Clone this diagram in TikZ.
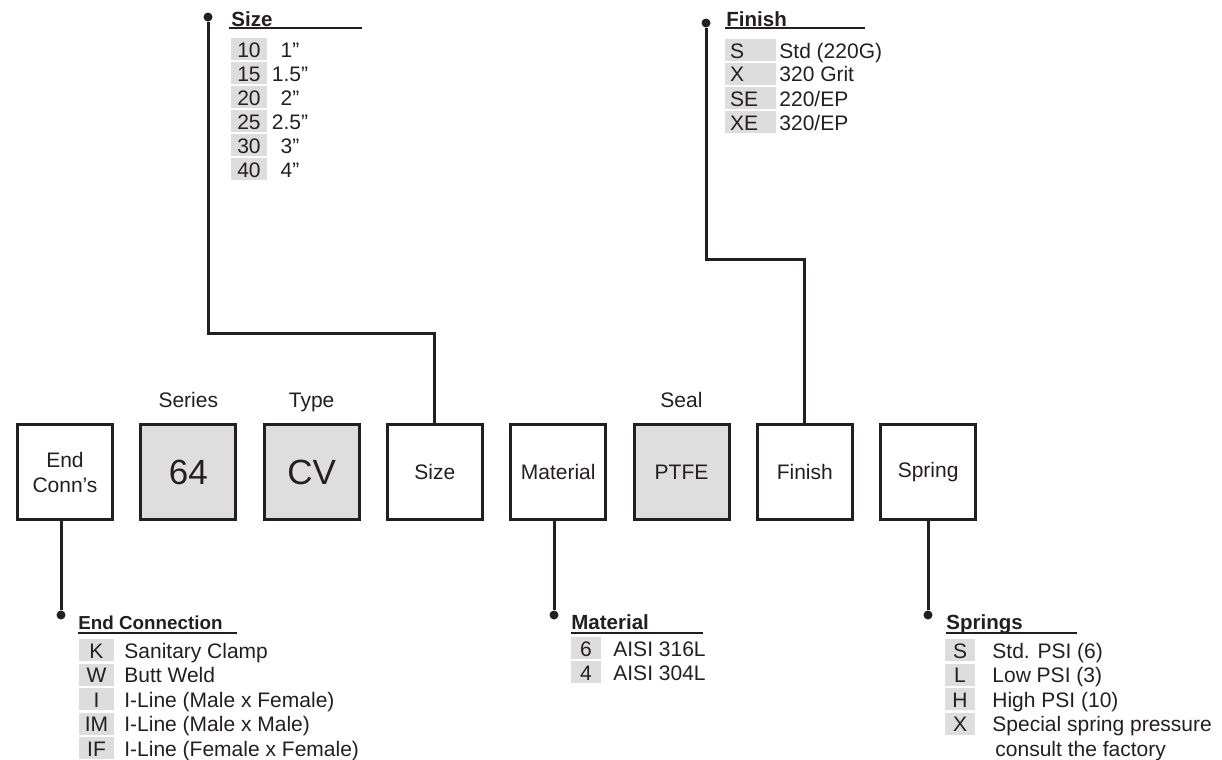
\documentclass[tikz,border=0pt]{standalone}
\usepackage{fontspec}
\setmainfont{Liberation Sans}
\usetikzlibrary{positioning}
\definecolor{inkc}{HTML}{231F20}
\definecolor{keyc}{HTML}{DEDEDE}
\definecolor{codec}{HTML}{DDDDDD}
\newcommand{\keyfont}{\fontsize{10.5}{12.5}\selectfont}
\tikzset{
  part/.style   = {draw=inkc, line width=1.5pt, minimum width=47.5pt, minimum height=47.5pt,
                   inner sep=0pt, align=center, text=inkc, font=\keyfont},
  fixed/.style  = {part, fill=keyc},
  big/.style    = {font=\fontsize{17.5}{20}\selectfont},
  toplbl/.style = {anchor=base, inner sep=0pt, text=inkc, font=\keyfont},
  conn/.style   = {draw=inkc, line width=1.5pt},
  dot/.style    = {circle, fill=inkc, inner sep=0pt, minimum size=4.5pt},
  head/.style   = {anchor=base west, inner sep=0pt, text=inkc, font=\fontsize{10.25}{12}\selectfont\bfseries},
  headsm/.style = {head, font=\fontsize{9.4}{11}\selectfont\bfseries},
  rule/.style   = {draw=inkc, line width=0.8pt},
  codebox/.style= {fill=codec, minimum height=11pt, inner sep=0pt, text height=8pt, text depth=0pt,
                   text=inkc, font=\keyfont},
  val/.style    = {anchor=west, inner sep=0pt, text height=8pt, text depth=0pt, text=inkc, font=\keyfont},
}

\begin{document}
\begin{tikzpicture}[x=0.5pt, y=-0.5pt, node distance=12.65pt]
\useasboundingbox (0,0) rectangle (1222,760);

% ---- part number boxes ----
\node[part] (endconn) at (65,472) {End\\Conn’s};
\node[fixed, big, right=of endconn] (series) {64};
\node[fixed, big, right=of series] (type) {CV};
\node[part, right=of type] (size) {Size};
\node[part, right=of size] (material) {Material};
\node[fixed, right=of material] (seal) {PTFE};
\node[part, right=of seal] (finish) {Finish};
\node[part, right=of finish] (spring) {Spring};

\node[toplbl] (serieslbl) at ([yshift=8pt]series.north) {Series};
\node[toplbl] (typelbl) at ([yshift=8pt]type.north) {Type};
\node[toplbl] (seallbl) at ([yshift=8pt]seal.north) {Seal};

% ---- size key ----
\node[dot] (sizedot) at (208,17) {};
\coordinate (sizebend) at (208,333);
\draw[conn] (size.north) |- (sizebend) -- (sizedot);
\node[head] (sizehead) at (231,26) {Size};
\draw[rule] ([shift={(-2,2)}]sizehead.base west) -- ++(133,0);
\foreach \code/\desc [count=\k] in {10/1”, 15/1.5”, 20/2”, 25/2.5”, 30/3”, 40/4”} {
  \node[codebox, minimum width=18pt] (sz\k) at (249,{25+24*\k}) {\code};
  \node[val, anchor=center] (szv\k) at (290,{25+24*\k}) {\desc};
}

% ---- finish key ----
\node[dot] (findot) at (706,23) {};
\coordinate (finbend) at (706,259);
\draw[conn] (finish.north) |- (finbend) -- (findot);
\node[head] (finhead) at (726,26) {Finish};
\draw[rule] ([shift={(-1,2)}]finhead.base west) -- ++(140,0);
\foreach \code/\desc [count=\k] in {S/{Std (220G)}, X/{320 Grit}, SE/{220/EP}, XE/{320/EP}} {
  \node[codebox, minimum width=25.5pt, text width=20.5pt, inner xsep=2.5pt, align=left]
        (fn\k) at (750.5,{26+24*\k}) {\code};
  \node[val] (fnv\k) at (779,{26+24*\k}) {\desc};
}

% ---- end connection key ----
\node[dot] (ecdot) at (61,615) {};
\draw[conn] (endconn.south -| ecdot) -- (ecdot);
\node[headsm] (echead) at (78,629) {End Connection};
\draw[rule] ([shift={(0,4)}]echead.base west) -- ([shift={(14,4)}]echead.base east);
\foreach \code/\desc [count=\k] in {K/{Sanitary Clamp}, W/{Butt Weld}, I/{I-Line (Male x Female)},
    IM/{I-Line (Male x Male)}, IF/{I-Line (Female x Female)}} {
  \node[codebox, minimum width=17.5pt] (ec\k) at (96.5,{625.5+24.5*\k}) {\code};
  \node[val] (ecv\k) at (124,{625.5+24.5*\k}) {\desc};
}

% ---- material key ----
\node[dot] (matdot) at (554,615) {};
\draw[conn] (material.south -| matdot) -- (matdot);
\node[head] (mathead) at (571,629) {Material};
\draw[rule] ([shift={(0,4)}]mathead.base west) -- ++(132,0);
\foreach \code/\desc [count=\k] in {6/{AISI 316L}, 4/{AISI 304L}} {
  \node[codebox, minimum width=15pt] (mt\k) at (586,{624+24*\k}) {\code};
  \node[val] (mtv\k) at (613,{624+24*\k}) {\desc};
}

% ---- springs key ----
\node[dot] (spdot) at (928,615) {};
\draw[conn] (spring.south -| spdot) -- (spdot);
\node[head] (sphead) at (946,629) {Springs};
\draw[rule] ([shift={(0,4)}]sphead.base west) -- ++(131,0);
\foreach \code/\desc [count=\k] in {S/{Std. PSI (6)}, L/{Low PSI (3)}, H/{High PSI (10)},
    X/{Special spring pressure}} {
  \node[codebox, minimum width=15pt] (sp\k) at (960,{625.5+24.5*\k}) {\code};
  \node[val] (spv\k) at (992,{625.5+24.5*\k}) {\desc};
}
\node[val] (spv5) at (995,748) {consult the factory};

\end{tikzpicture}
\end{document}
